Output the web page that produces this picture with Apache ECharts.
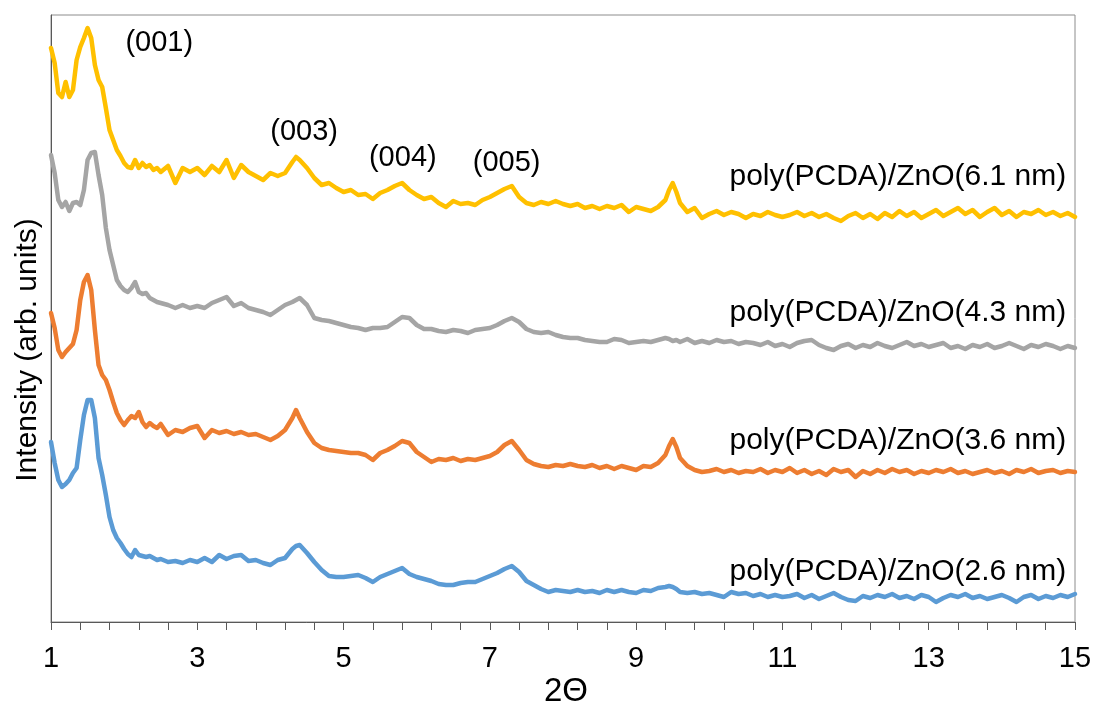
<!DOCTYPE html>
<html>
<head>
<meta charset="utf-8">
<script src="https://cdn.jsdelivr.net/npm/echarts@6/dist/echarts.min.js"></script>
<style>
html,body{margin:0;padding:0;background:#fff;}
#chart{width:1094px;height:709px;}
</style>
</head>
<body>
<div id="chart"></div>
<script>
// 2-theta positions (degrees)
var xs = [1.00,1.05,1.10,1.15,1.20,1.25,1.30,1.35,1.40,1.45,1.50,1.55,1.60,1.65,1.70,1.75,1.80,1.85,1.90,1.95,2.00,2.05,2.10,2.15,2.20,2.25,2.30,2.35,2.40,2.45,2.50,
2.6,2.7,2.8,2.9,3.0,3.1,3.2,3.3,3.4,3.5,3.6,3.7,3.8,3.9,4.0,4.1,4.2,4.3,
4.35,
4.4,4.5,4.6,4.7,4.8,4.9,5.0,5.1,5.2,5.3,5.4,5.5,5.6,5.7,5.8,5.9,6.0,6.1,6.2,6.3,6.4,6.5,6.6,6.7,6.8,6.9,7.0,7.1,7.2,7.3,7.4,7.5,7.6,7.7,7.8,7.9,8.0,8.1,8.2,8.3,8.4,8.5,8.6,8.7,8.8,8.9,9.0,9.1,9.2,9.3,9.4,
9.45,9.5,9.55,
9.6,9.7,9.8,9.9,10.0,10.1,10.2,10.3,10.4,10.5,10.6,10.7,10.8,10.9,11.0,11.1,11.2,11.3,11.4,11.5,11.6,11.7,11.8,11.9,12.0,12.1,12.2,12.3,12.4,12.5,12.6,12.7,12.8,12.9,13.0,13.1,13.2,13.3,13.4,13.5,13.6,13.7,13.8,13.9,14.0,14.1,14.2,14.3,14.4,14.5,14.6,14.7,14.8,14.9,15.0];

// Intensities (arb. units, stacked offsets as in the figure)
var int61 = [574,559,529,525,540,525,532,562,575,584,594,584,557,542,535,514,492,482,472,466,459,455,454,462,454,459,455,457,452,454,450,
456,439,454,450,454,447,456,450,462,444,457,450,446,442,449,446,449,460,
465,
462,454,444,437,439,434,430,432,427,428,423,429,432,436,439,432,427,423,425,419,415,421,418,419,417,422,425,429,433,436,425,419,417,420,418,421,418,416,418,414,416,413,416,414,417,410,415,413,411,415,422,
432,439,430,
419,410,414,404,408,411,407,410,408,404,408,406,410,407,405,407,410,406,409,405,408,404,401,406,409,404,408,403,409,405,411,406,410,404,408,412,406,410,414,408,412,405,410,414,407,411,405,410,408,412,407,410,406,409,405];

var int43 = [467,449,422,415,420,411,419,420,417,432,462,469,470,447,427,394,372,357,342,336,332,330,334,340,330,328,329,324,322,320,319,
317,314,317,314,316,314,319,322,325,316,319,314,312,310,307,312,317,320,
322,
324,317,304,302,301,299,297,295,294,292,294,294,295,300,305,304,297,293,293,291,290,292,291,289,292,293,294,297,301,304,300,293,290,289,290,287,285,284,284,282,281,280,280,283,282,279,280,281,280,282,284,
283,281,282,
280,283,279,281,279,282,280,281,278,280,279,277,280,276,278,275,279,281,282,277,274,272,276,278,274,277,275,279,276,274,277,280,276,278,275,277,279,274,276,273,277,275,278,274,276,279,276,273,277,275,278,276,273,276,274];

var int36 = [309,294,272,265,270,274,278,292,322,340,347,332,292,257,247,242,232,220,209,202,197,202,206,204,210,200,195,199,196,194,198,
187,192,190,194,196,184,192,189,191,188,190,187,188,185,182,186,192,204,
212,
204,190,179,174,172,171,170,169,169,167,162,169,172,176,181,179,170,165,160,163,162,164,161,163,162,164,166,170,177,181,172,162,158,156,155,157,156,158,156,155,157,154,156,153,156,154,152,156,155,159,167,
176,183,175,
164,156,152,150,151,153,150,152,149,151,150,153,149,152,150,154,149,152,148,151,147,153,150,152,145,151,148,152,149,153,150,152,148,151,149,152,150,153,149,151,148,150,152,149,151,148,152,150,153,149,151,152,149,151,150];

var int26 = [180,159,142,135,138,142,149,154,182,207,222,222,204,164,147,127,105,92,84,79,73,68,65,72,67,66,65,66,64,62,63,
60,61,59,62,60,64,60,67,63,66,67,61,62,59,57,62,64,73,
76,
77,69,60,52,46,45,45,46,47,44,40,45,48,51,54,48,45,43,41,38,37,37,39,40,40,43,46,49,53,56,50,41,37,33,30,32,31,30,32,30,31,29,32,30,32,30,29,32,31,34,35,
36,35,33,
30,29,30,28,29,27,25,30,28,29,26,28,25,27,25,26,28,24,27,23,26,29,25,22,21,26,24,27,25,28,24,26,23,27,25,20,24,27,25,28,24,26,23,25,27,24,20,25,27,23,26,24,27,25,28];

var seriesNames = ['poly(PCDA)/ZnO(6.1 nm)','poly(PCDA)/ZnO(4.3 nm)','poly(PCDA)/ZnO(3.6 nm)','poly(PCDA)/ZnO(2.6 nm)'];
var seriesColors = ['#FFC000','#A5A5A5','#ED7D31','#5B9BD5'];
var seriesData = [int61,int43,int36,int26];

// Label anchor positions in data units [2theta, intensity]
var seriesLabelPos = [[14.88,445],[14.88,309],[14.88,181],[14.88,50]];
var peakLabels = ['(001)','(003)','(004)','(005)'];
var peakLabelPos = [[2.48,579],[4.46,490],[5.81,464],[7.23,459]];

var tickValues = [];
for (var t = 0; t <= 35; t++) tickValues.push(Math.round((1 + t*0.4)*10)/10);
var labelValues = [1,3,5,7,9,11,13,15];

var xTitle = '2\u0398';
var yTitle = 'Intensity (arb. units)';

var FONT = "'Liberation Sans', Arial, sans-serif";

var chart = echarts.init(document.getElementById('chart'), null, {renderer:'canvas'});

var series = seriesData.map(function(arr, i){
  return {
    name: seriesNames[i],
    type: 'line',
    data: xs.map(function(x, k){ return [x, arr[k]]; }),
    showSymbol: false,
    symbol: 'none',
    lineStyle: {color: seriesColors[i], width: 4.5, join: 'round', cap: 'round'},
    itemStyle: {color: seriesColors[i]},
    animation: false,
    z: 3
  };
});

chart.setOption({
  animation: false,
  grid: {left: 51, top: 15, right: 19, bottom: 87, containLabel: false, outerBoundsMode: 'none', show: true, borderColor: '#8c8c8c', borderWidth: 1, backgroundColor: 'transparent'},
  xAxis: {
    type: 'value', min: 1, max: 15,
    axisLine: {show: true, onZero: false, lineStyle: {color: '#595959', width: 1}},
    axisTick: {show: true, customValues: tickValues, length: 8, lineStyle: {color: '#595959'}},
    axisLabel: {show: true, customValues: labelValues, margin: 22, fontSize: 29, color: '#000', fontFamily: FONT},
    splitLine: {show: false}
  },
  yAxis: {
    type: 'value', min: 0, max: 607,
    axisLine: {show: true, lineStyle: {color: '#595959', width: 1}},
    axisTick: {show: false},
    axisLabel: {show: false},
    splitLine: {show: false}
  },
  series: series
});

var graphics = [];
seriesNames.forEach(function(n, i){
  var p = chart.convertToPixel({gridIndex: 0}, seriesLabelPos[i]);
  graphics.push({type: 'text', x: p[0], y: p[1], style: {text: n, fontSize: 30, fontFamily: FONT, fill: '#000', textAlign: 'right', textVerticalAlign: 'middle'}, z: 10});
});
peakLabels.forEach(function(n, i){
  var p = chart.convertToPixel({gridIndex: 0}, peakLabelPos[i]);
  graphics.push({type: 'text', x: p[0], y: p[1], style: {text: n, fontSize: 29, fontFamily: FONT, fill: '#000', textAlign: 'center', textVerticalAlign: 'middle'}, z: 10});
});
graphics.push({type: 'text', x: 28, y: 350, rotation: Math.PI/2, style: {text: yTitle, fontSize: 30, fontFamily: FONT, fill: '#000', textAlign: 'center', textVerticalAlign: 'middle'}, z: 10});
graphics.push({type: 'text', x: 566, y: 692, style: {text: xTitle, fontSize: 33, fontFamily: FONT, fill: '#000', textAlign: 'center', textVerticalAlign: 'middle'}, z: 10});
chart.setOption({graphic: graphics});
</script>
</body>
</html>
